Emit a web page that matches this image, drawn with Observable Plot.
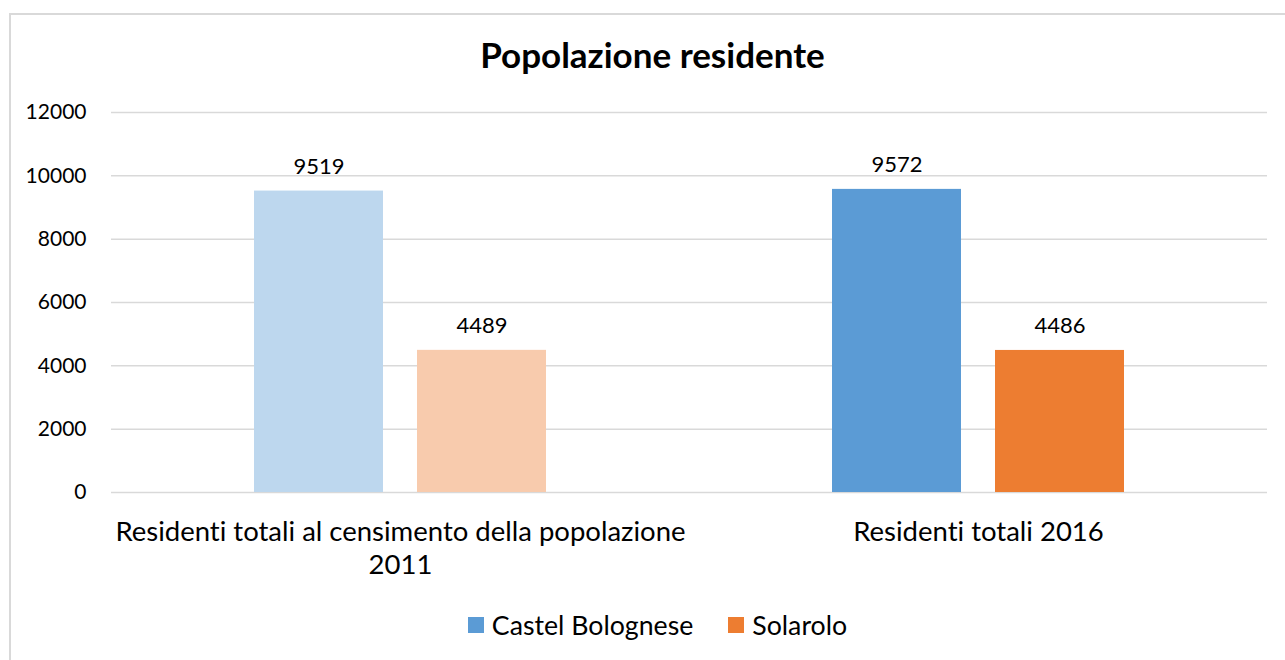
<!DOCTYPE html>
<html>
<head>
<meta charset="utf-8">
<script src="https://cdn.jsdelivr.net/npm/d3@7"></script>
<script src="https://cdn.jsdelivr.net/npm/@observablehq/plot@0.6"></script>
<style>
  html, body { margin: 0; padding: 0; background: #fff; }
  body { width: 1285px; height: 660px; overflow: hidden; position: relative; font-family: Lato, "Open Sans", sans-serif; color: #000; font-variant-ligatures: none; font-feature-settings: "liga" 0, "clig" 0; }
  svg text { font-variant-ligatures: none; font-feature-settings: "liga" 0, "clig" 0; }
  #frame { position: absolute; left: 9px; top: 13px; width: 1400px; height: 800px; border-left: 2px solid #d9d9d9; border-top: 2px solid #d9d9d9; }
  #title { position: absolute; left: 0; top: 0; width: 1285px; height: 85px; text-align: center; font-weight: bold; font-size: 35px; line-height: 85px; }
  #title span { position: relative; top: 12px; left: 10px; }
  #chart { position: absolute; left: 0; top: 85px; }
  #legend { position: absolute; left: 15px; top: 609px; width: 1285px; display: flex; justify-content: center; align-items: center; gap: 35px; font-size: 26.7px; }
  #legend .item { display: flex; align-items: center; gap: 8px; }
  #legend .sw { width: 16px; height: 16px; display: inline-block; }
</style>
</head>
<body>
<div id="frame"></div>
<div id="title"><span>Popolazione residente</span></div>
<div id="chart"></div>
<div id="legend"></div>
<script>
const categories = ["Residenti totali al censimento della popolazione\n2011", "Residenti totali 2016"];
const seriesNames = ["Castel Bolognese", "Solarolo"];
const castelBolognese = [9519, 9572];
const solarolo = [4489, 4486];
const yTicks = [0, 2000, 4000, 6000, 8000, 10000, 12000];
const seriesColors = ["#5B9BD5", "#ED7D31"];
const lightColors = ["#BDD7EE", "#F8CBAD"];

const data = [];
categories.forEach((c, i) => {
  data.push({category: c, series: seriesNames[0], value: castelBolognese[i], fill: i === 0 ? lightColors[0] : seriesColors[0]});
  data.push({category: c, series: seriesNames[1], value: solarolo[i], fill: i === 0 ? lightColors[1] : seriesColors[1]});
});

const plot = Plot.plot({
  width: 1285,
  height: 507,
  marginTop: 27,
  marginBottom: 100,
  marginLeft: 110,
  marginRight: 18,
  style: {fontFamily: "Lato, 'Open Sans', sans-serif", color: "#000", background: "transparent"},
  fx: {domain: categories, padding: 0, label: null},
  x: {domain: seriesNames, paddingInner: 0.207, paddingOuter: 0.867, axis: null},
  y: {domain: [0, 12000], ticks: yTicks, label: null},
  marks: [
    Plot.gridY(yTicks, {stroke: "#d9d9d9", strokeOpacity: 1, strokeWidth: 1.5}),
    Plot.axisY(yTicks, {tickSize: 0, tickPadding: 25, fontSize: 21, label: null, tickFormat: d => String(d)}),
    Plot.barY(data, {fx: "category", x: "series", y: "value", fill: "fill"}),
    Plot.text(data, {fx: "category", x: "series", y: "value", text: d => String(d.value), lineAnchor: "bottom", dy: -17, fontSize: 22, fill: "#000"}),
    Plot.axisFx({anchor: "bottom", tickSize: 0, tickPadding: 25, fontSize: 27.5, lineHeight: 1.2, label: null, lineAnchor: "top"})
  ]
});
document.getElementById("chart").appendChild(plot);

const legend = document.getElementById("legend");
seriesNames.forEach((s, i) => {
  const item = document.createElement("div");
  item.className = "item";
  const sw = document.createElement("span");
  sw.className = "sw";
  sw.style.background = seriesColors[i];
  const t = document.createElement("span");
  t.textContent = s;
  item.appendChild(sw);
  item.appendChild(t);
  legend.appendChild(item);
});
</script>
</body>
</html>
